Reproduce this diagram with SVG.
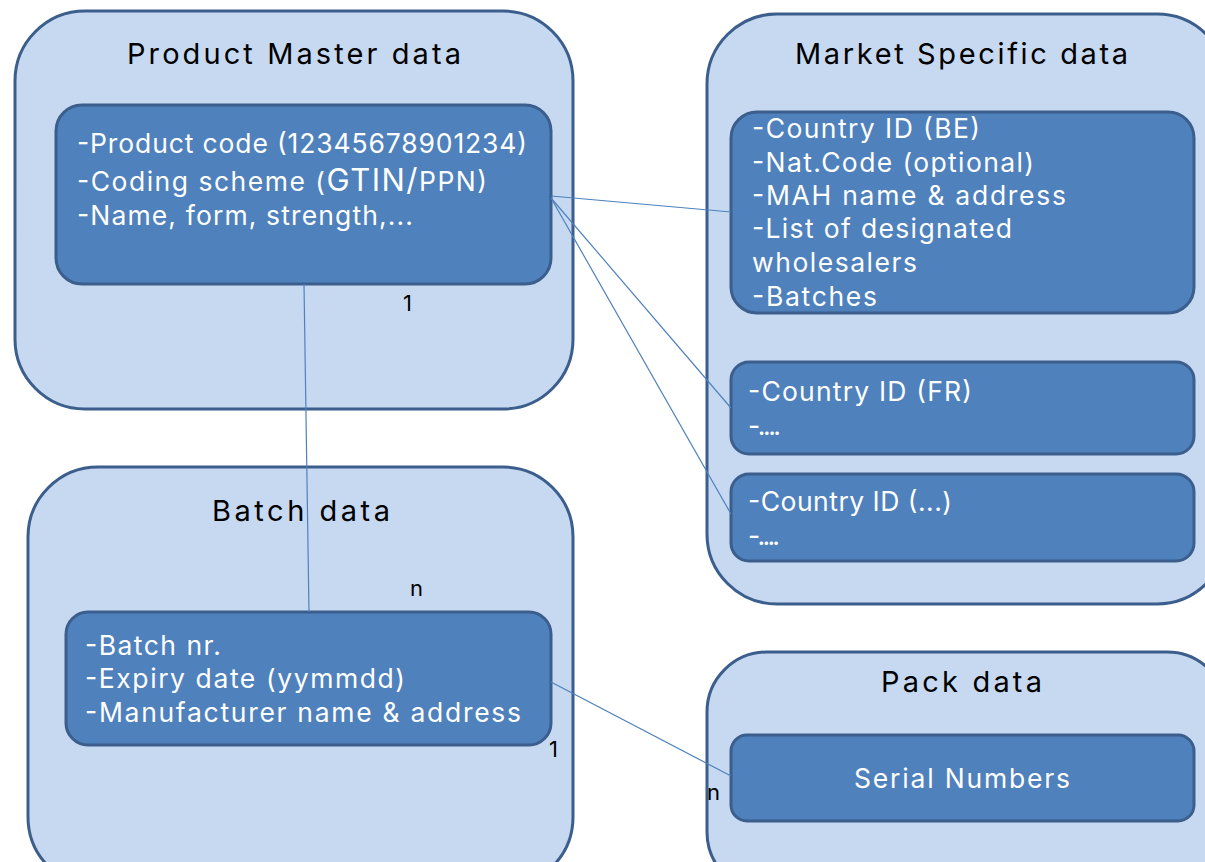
<svg xmlns="http://www.w3.org/2000/svg" width="1205" height="862" viewBox="0 0 1205 862">
<style>
.outer{fill:#c6d9f1;stroke:#3b5e8c;stroke-width:3}
.inner{fill:#4f81bd;stroke:#3b5e8c;stroke-width:3}
.title{font-family:Inter,"Open Sans",sans-serif;font-size:29px;fill:#000}
.txt{font-family:Inter,"Open Sans",sans-serif;font-size:26.5px;fill:#fff}
.lbl{font-family:Inter,"Open Sans",sans-serif;font-size:22px;fill:#000}
.conn{stroke:#4f81bd;stroke-width:1.2;fill:none}
</style>
<rect width="1205" height="862" fill="#fff"/>
<g id="product-master">
<rect class="outer" x="15" y="11" width="558" height="398" rx="70"/>
<text class="title" x="127" y="64" textLength="334" lengthAdjust="spacing">Product Master data</text>
<rect class="inner" x="56" y="105" width="495" height="179" rx="26"/>
<text class="txt" x="77" y="153" textLength="450" lengthAdjust="spacing">-Product code (12345678901234)</text>
<text class="txt" x="77" y="191" textLength="410" lengthAdjust="spacing">-Coding scheme (<tspan font-size="31">GTIN/</tspan>PPN)</text>
<text class="txt" x="77" y="225" textLength="336" lengthAdjust="spacing">-Name, form, strength,...</text>
</g>
<g id="market-specific">
<rect class="outer" x="707" y="14" width="520" height="590" rx="70"/>
<text class="title" x="795" y="64" textLength="333" lengthAdjust="spacing">Market Specific data</text>
<g id="market-be">
<rect class="inner" x="731" y="112" width="463" height="201" rx="26"/>
<text class="txt" x="752" y="138" textLength="228" lengthAdjust="spacing">-Country ID (BE)</text>
<text class="txt" x="752" y="172" textLength="282" lengthAdjust="spacing">-Nat.Code (optional)</text>
<text class="txt" x="752" y="205" textLength="314" lengthAdjust="spacing">-MAH name &amp; address</text>
<text class="txt" x="752" y="238" textLength="260" lengthAdjust="spacing">-List of designated</text>
<text class="txt" x="752" y="272" textLength="165" lengthAdjust="spacing">wholesalers</text>
<text class="txt" x="752" y="306" textLength="125" lengthAdjust="spacing">-Batches</text>
</g>
<g id="market-fr">
<rect class="inner" x="731" y="362" width="463" height="92" rx="18"/>
<text class="txt" x="748" y="401" textLength="224" lengthAdjust="spacing">-Country ID (FR)</text>
<text class="txt" x="748" y="435" textLength="33" lengthAdjust="spacing">-....</text>
</g>
<g id="market-other">
<rect class="inner" x="731" y="474" width="463" height="87" rx="18"/>
<text class="txt" x="748" y="511" textLength="204" lengthAdjust="spacing">-Country ID (...)</text>
<text class="txt" x="748" y="545" textLength="32" lengthAdjust="spacing">-....</text>
</g>
</g>
<g id="batch">
<rect class="outer" x="28" y="467" width="545" height="420" rx="70"/>
<text class="title" x="212" y="521" textLength="178" lengthAdjust="spacing">Batch data</text>
<rect class="inner" x="66" y="612" width="485" height="133" rx="22"/>
<text class="txt" x="85" y="655" textLength="136" lengthAdjust="spacing">-Batch nr.</text>
<text class="txt" x="85" y="688" textLength="320" lengthAdjust="spacing">-Expiry date (yymmdd)</text>
<text class="txt" x="85" y="722" textLength="436" lengthAdjust="spacing">-Manufacturer name &amp; address</text>
</g>
<g id="pack">
<rect class="outer" x="707" y="652" width="520" height="240" rx="60"/>
<text class="title" x="881" y="692" textLength="161" lengthAdjust="spacing">Pack data</text>
<rect class="inner" x="731" y="735" width="463" height="86" rx="16"/>
<text class="txt" x="854" y="788" textLength="216" lengthAdjust="spacing">Serial Numbers</text>
</g>
<g id="connectors">
<line class="conn" x1="551" y1="196" x2="731" y2="212"/>
<line class="conn" x1="551" y1="198" x2="731" y2="408"/>
<line class="conn" x1="551" y1="198" x2="731" y2="514"/>
<line class="conn" x1="304" y1="284" x2="309" y2="612"/>
<line class="conn" x1="551" y1="682" x2="731" y2="776"/>
</g>
<g id="labels">
<text class="lbl" x="403" y="311">1</text>
<text class="lbl" x="410" y="596">n</text>
<text class="lbl" x="549" y="757">1</text>
<text class="lbl" x="707" y="800">n</text>
</g>
</svg>
